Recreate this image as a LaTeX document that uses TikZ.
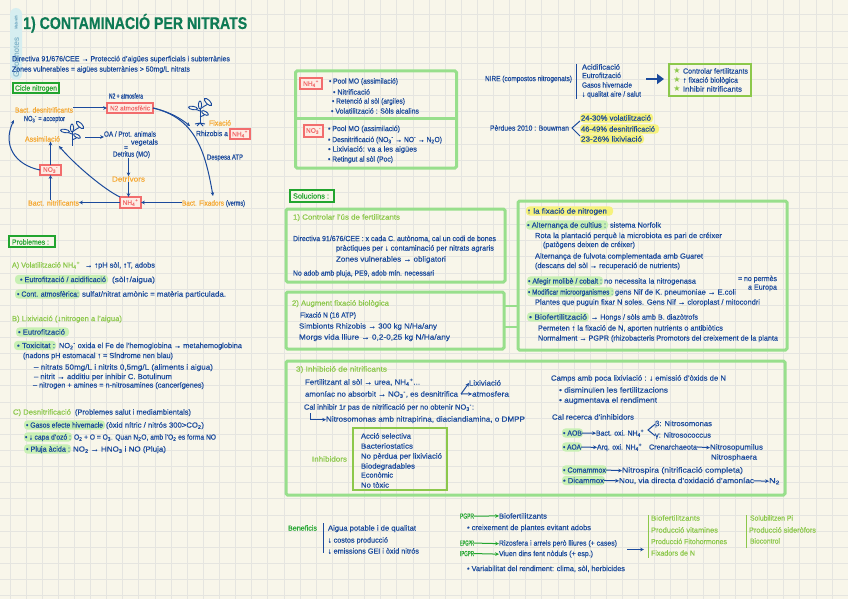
\documentclass[tikz,border=0pt]{standalone}
\usepackage{fontspec}
\usepackage{graphicx}
\setmainfont{Liberation Sans}[FakeBold=0.45]
\newfontfamily\djv{DejaVu Sans}
\usetikzlibrary{arrows.meta,calc}
\definecolor{bg}{HTML}{F8F6EA}
\definecolor{gridc}{HTML}{E5E5E0}
\definecolor{ink}{HTML}{1B4A9C}
\definecolor{titlec}{HTML}{0E7A55}
\definecolor{orng}{HTML}{F5A833}
\definecolor{lime}{HTML}{8CC84B}
\definecolor{dgreen}{HTML}{22A52F}
\definecolor{rd}{HTML}{F26D6D}
\definecolor{pinkf}{HTML}{FDECE4}
\definecolor{boxg}{HTML}{98DF8C}
\definecolor{hlg}{HTML}{C8F0B4}
\definecolor{hly}{HTML}{F6F27C}
\definecolor{tagb}{HTML}{D6EEF0}
\definecolor{tagt}{HTML}{86B8CC}
\newsavebox\fitbox
\newcommand\fitw[2]{\sbox\fitbox{#2}\pgfmathsetmacro\fr{(#1)/\the\wd\fitbox}\scalebox{\fr}[1]{\usebox\fitbox}}
\newcommand\tx[6][ink]{\node[lbl,text=#1,anchor=base west] (#2) at (#3,#5+2.6) {\fitw{#4-#3}{#6}};}
\newcommand\hl[4][hlg]{\fill[#1,rounded corners=3.5] (#2,#4-4.6) rectangle (#3,#4+4.6);}
\newcommand\nhf{NH\textsubscript{4}\textsuperscript{+}}
\newcommand\ntr{NO\textsubscript{3}\textsuperscript{-}}
\newcommand\plantshape[3]{% x y flip
\begin{scope}[shift={(#1,#2)},xscale=#3,draw=ink,line width=.9]
\draw (0,0) -- (0,20);
\draw (0,8) .. controls (-3,6) and (-6,6) .. (-11,5);
\draw (0,6) .. controls (3,4) and (6,2) .. (8,1);
\draw (0,14) .. controls (3,13) and (5,12) .. (7,9);
\draw[fill=bg,rotate around={-10:(-7,5)}] (-7,5) ellipse (4.5 and 1.7);
\draw[fill=bg,rotate around={-45:(8,-1)}] (8,-1) ellipse (4.8 and 2);
\draw[fill=bg,rotate around={90:(0,2)}] (0,2) ellipse (4 and 1.6);
\draw[fill=bg,rotate around={-30:(5,10)}] (5,10) ellipse (3.8 and 1.6);
\end{scope}}
\tikzset{
 lbl/.style={inner sep=0pt,outer sep=0pt,font=\fontsize{7.4}{8}\selectfont},
 conn/.style={draw=ink,line width=1,-{Stealth[length=3.8pt,width=3.6pt]}},
 rline/.style={draw=ink,line width=1},
 redbox/.style={draw=rd,fill=pinkf,line width=1.3,text=rd,inner sep=0pt,outer sep=0pt,font=\fontsize{6.6}{7}\selectfont},
 gbox/.style={draw=boxg,line width=3,rounded corners=1.5,anchor=north west,inner sep=0pt,outer sep=0pt},
 libox/.style={draw=lime,line width=1.4,anchor=north west,inner sep=0pt,outer sep=0pt},
 tagbox/.style={draw=dgreen,line width=1.2,anchor=north west,inner sep=0pt,outer sep=0pt,fill=bg},
 gbar/.style={draw=lime,line width=1},
}
\begin{document}
\begin{tikzpicture}[x=1pt,y=-1pt]
\useasboundingbox (0,0) rectangle (848,599);
\fill[bg] (0,0) rectangle (848,599);
\foreach \k in {-1,...,52} \draw[gridc,line width=1] ({10+16.12*\k},0) -- ({10+16.12*\k},599);
\foreach \k in {-1,...,36} \draw[gridc,line width=1] (0,{15+16.13*\k}) -- (848,{15+16.13*\k});

% side tag
\fill[tagb,rounded corners=6] (10,8) rectangle (22,80);
\node[inner sep=0pt,rotate=90,text=tagt,font=\fontsize{4}{4}\selectfont] (tag1) at (16,22) {\fitw{13}{Made with}};
\node[inner sep=0pt,rotate=90,text=tagt,font=\fontsize{8}{8}\selectfont] (tag2) at (16,57) {\fitw{40}{Goodnotes}};

% title
\node[inner sep=0pt,anchor=base west,text=titlec,font=\bfseries\fontsize{17}{18}\selectfont] (title) at (23,29) {\fitw{224}{1) CONTAMINACIÓ PER NITRATS}};

\tx{l1}{12}{230}{58.7}{Directiva 91/676/CEE → Protecció d'aigües superficials i subterrànies}
\tx{l2}{12}{190}{69}{Zones vulnerables = aigües subterrànies > 50mg/L nitrats}

% nitrogen cycle
\node[tagbox,minimum width=46,minimum height=10] (cicle) at (13,83) {};
\tx[dgreen]{ciclet}{15}{57}{88}{Cicle nitrogen}
\tx{na}{109}{143}{96}{N2 + atmosfera}
\node[redbox,minimum width=46,minimum height=10] (n2) at (130,108) {\fitw{40}{N2 atmosfèric}};
\tx[orng]{bd}{15}{73}{110}{Bact. desnitrificants}
\tx{bda}{24}{65}{118.5}{\ntr{} = acceptor}
\tx[orng]{as}{25}{60}{139}{Assimilació}
\plantshape{72}{126}{1}
\coordinate (pa) at (85,137);
\tx{oa}{104}{156}{134}{OA / Prot. animals}
\tx{ve}{131}{158}{142}{vegetals}
\tx{eq}{124}{128}{147.5}{=}
\tx{de}{113}{150}{154}{Detritus (MO)}
\tx[orng]{dv}{112}{145}{179}{Detrívors}
\node[redbox,minimum width=21,minimum height=11] (nh) at (130.5,202.5) {\nhf};
\tx[orng]{bn}{28}{79}{203}{Bact. nitrificants}
\tx[orng]{bf}{182}{224}{203}{Bact. Fixadors}
\tx{bfv}{226}{245}{203}{(verms)}
\node[redbox,minimum width=21,minimum height=10] (no) at (50.5,170) {\ntr};
\plantshape{200}{103}{1}
\coordinate (rt) at (200,123);
\draw[draw=ink,line width=.9] (rt) -- +(-5,1) (rt) -- +(5,1) (rt) -- +(-3,3) (rt) -- +(3,3);
\tx[orng]{fx}{209}{231}{123}{Fixació}
\tx{rh}{196}{228}{133.5}{Rhizobis a}
\node[redbox,minimum width=20,minimum height=10] (nhb) at (240,134) {\nhf};
\tx{atp}{207}{243}{157}{Despesa ATP}

\draw[conn] (bd.east |- n2) -- (n2.west);
\draw[conn] (pa) -- (oa.west |- pa);
\draw[conn] (de.south -| dv) -- (dv.north);
\draw[conn] (dv.south) -- (dv.south |- nh.north);
\draw[conn] (nh.west) -- (bn.east |- nh);
\draw[conn] (bf.west |- nh) -- (nh.east);
\draw[conn] (bn.north -| no) -- (no.south);
\draw[conn] (no.north) -- (as.south -| no);
\draw[conn] (no.west) .. controls (15,165) and (2,145) .. (14,120);
\draw[conn] (nh.north west) .. controls (105,190) and (75,165) .. (59,146);
\draw[conn] (n2.east) .. controls (195,118) and (205,150) .. (213,196);
\draw[conn] (n2.east) .. controls (170,112) and (180,118) .. (190,126);

% problemes
\node[tagbox,minimum width=46,minimum height=11,line width=1.4] (prob) at (9,236) {};
\tx[dgreen]{probt}{12}{49}{242}{Problemes :}
\tx[lime]{a1}{12}{80}{265}{A) Volatilització \nhf}
\tx{a2}{85}{155}{265}{→ ↑pH sòl, ↑T, adobs}
\hl{15}{108}{279.5}
\tx{a3}{20}{106}{279.5}{• Eutrofització / acidificació}
\tx{a4}{112}{155}{279.5}{(sòl↑/aigua)}
\hl{15}{80}{294}
\tx{a5}{17}{79}{294}{• Cont. atmosfèrica:}
\tx{a6}{82}{226}{294}{sulfat/nitrat amònic = matèria particulada.}
\tx[lime]{b1}{12}{122}{318.5}{B) Lixiviació (↓nitrogen a l'aigua)}
\hl{16}{69}{332}
\tx{b2}{18}{65}{332}{• Eutrofització}
\hl{14}{56}{345.5}
\tx{b3}{17}{55}{345.5}{• Toxicitat :}
\tx{b4}{59}{242}{345.5}{NO\textsubscript{2}\textsuperscript{-} oxida el Fe de l'hemoglobina → metahemoglobina}
\tx{b5}{23}{173}{355.5}{(nadons pH estomacal ↑ = Síndrome nen blau)}
\tx{b6}{34}{213}{367}{– nitrats 50mg/L i nitrits 0,5mg/L (aliments i aigua)}
\tx{b7}{34}{172}{376.5}{– nitrit → additiu per inhibir C. Botulinum}
\tx{b8}{33}{204}{385}{– nitrogen + amines = n-nitrosamines (cancerígenes)}
\tx[lime]{c1}{13}{71}{412}{C) Desnitrificació}
\tx{c2}{75}{191}{412}{(Problemes salut i mediambientals)}
\hl{24}{105}{425}
\tx{c3}{26}{103}{425}{• Gasos efecte hivernacle}
\tx{c4}{106}{204}{425}{(òxid nítric / nitrós 300>CO\textsubscript{2})}
\hl{24}{72}{437}
\tx{c5}{25}{71}{437}{• ↓ capa d'ozó :}
\tx{c6}{74}{216}{437}{O\textsubscript{2} + O = O\textsubscript{3}. Quan N\textsubscript{2}O, amb l'O\textsubscript{2} es forma NO}
\hl{24}{71}{449}
\tx{c7}{26}{70}{449}{• Pluja àcida :}
\tx{c8}{73}{166}{449}{NO\textsubscript{2} → HNO\textsubscript{3} i NO (Pluja)}

% NH4 / NO3 box
\node[gbox,minimum width=161,minimum height=97] (bx0) at (295.5,71) {};
\coordinate (midy) at (300,119);
\draw[boxg,line width=3] (bx0.west |- midy) -- (bx0.east |- midy);
\node[redbox,minimum width=22,minimum height=11] (nh2) at (311,83.5) {\nhf};
\node[redbox,minimum width=19,minimum height=12] (no2) at (313.5,131) {\ntr};
\tx{d1}{329}{398}{81}{• Pool MO (assimilació)}
\tx{d2}{333}{370}{92}{• Nitrificació}
\tx{d3}{332}{405}{101}{• Retenció al sòl (argiles)}
\tx{d4}{331}{419}{111}{• Volatilització : Sòls alcalins}
\tx{d5}{328}{400}{128.5}{• Pool MO (assimilació)}
\tx{d6}{328}{442}{139.5}{• Desnitrificació (\ntr{} → NO\textsuperscript{-} → N\textsubscript{2}O)}
\tx{d7}{328}{417}{149}{• Lixiviació: va a les aigües}
\tx{d8}{328}{393}{159}{• Retingut al sòl (Poc)}

% top right
\tx{e1}{485}{572}{78.5}{NIRE (compostos nitrogenats)}
\coordinate (bt) at (576,64); \coordinate (bb) at (576,99);
\draw[rline] (bt) -- (bb);
\tx{e2}{582}{620}{67}{Acidificació}
\tx{e3}{582}{621}{75.5}{Eutrofització}
\tx{e4}{582}{632}{85}{Gasos hivernacle}
\tx{e5}{582}{641}{94}{↓ qualitat aire / salut}
\node[libox,minimum width=82,minimum height=32] (ctrl) at (669,64) {};
\coordinate (ba) at (646,79);
\draw[draw=ink,line width=2.4,-{Triangle[length=7pt,width=10pt]}] (ba) -- (664,79);
\foreach \n/\yy in {s1/71,s2/80,s3/89} \node[inner sep=0pt,text=lime,font=\djv\fontsize{8}{8}\selectfont] (\n) at (677,\yy) {★};
\tx{e6}{683}{748}{71}{Controlar fertilitzants}
\tx{e7}{683}{738}{80}{↑ fixació biològica}
\tx{e8}{683}{742}{89}{Inhibir nitrificants}
\tx{f1}{490}{569}{128}{Pèrdues 2010 : Bouwman}
\coordinate (fa) at (572,128);\coordinate (fb) at (580,121);\coordinate (fc) at (580,136);
\draw[rline] (fb) -- (fa) -- (fc);
\hl[hly]{580}{653}{118}
\hl[hly]{580}{659}{129}
\hl[hly]{580}{644}{139}
\tx{f2}{581}{651}{118}{24-30\% volatilització}
\tx{f3}{581}{655}{129}{46-49\% desnitrificació}
\tx{f4}{581}{642}{139}{23-26\% lixiviació}

% solucions
\node[tagbox,minimum width=44,minimum height=12,line width=1.4] (sol) at (290,190) {};
\tx[dgreen]{solt}{293}{329}{196}{Solucions :}
\node[gbox,minimum width=219,minimum height=73] (bx1) at (286,209) {};
\tx[lime]{g1}{293}{400}{217}{1) Controlar l'ús de fertilitzants}
\tx{g2}{293}{496}{238.5}{Directiva 91/676/CEE : x cada C. autònoma, cal un codi de bones}
\tx{g3}{336}{494}{248}{pràctiques per ↓ contaminació per nitrats agraris}
\tx{g4}{336}{446}{259}{Zones vulnerables → obligatori}
\tx{g5}{293}{434}{273}{No adob amb pluja, PE9, adob mín. necessari}
\node[gbox,minimum width=218,minimum height=57] (bx2) at (286,292) {};
\tx[lime]{h1}{292}{389}{303}{2) Augment fixació biològica}
\tx{h2}{300}{356}{315}{Fixació N (16 ATP)}
\tx{h3}{299}{437}{326}{Simbionts Rhizobis → 300 kg N/Ha/any}
\tx{h4}{299}{450}{337}{Morgs vida lliure → 0,2-0,25 kg N/Ha/any}

\node[gbox,minimum width=269,minimum height=149] (bxr) at (518,201) {};
\coordinate (j1) at (510,306); \coordinate (j2) at (510,327);
\draw[boxg,line width=2.4] (bx2.east |- j1) -- (bxr.west |- j1);
\draw[boxg,line width=2.4] (bx2.east |- j2) -- (bxr.west |- j2);
\hl[hly]{526}{613}{211}
\tx{i1}{527}{607}{211}{↑ la fixació de nitrogen}
\hl{526}{608}{225}
\tx{i2}{527}{606}{225}{• Alternança de cultius :}
\tx{i3}{610}{661}{225}{sistema Norfolk}
\tx{i4}{535}{722}{235.5}{Rota la plantació perquè la microbiota es pari de créixer}
\tx{i5}{543}{635}{244.5}{(patògens deixen de créixer)}
\tx{i6}{535}{703}{256}{Alternança de fulvota complementada amb Guaret}
\tx{i7}{535}{680}{265.5}{(descans del sòl → recuperació de nutrients)}
\hl{527}{603}{281}
\tx{i8}{528}{602}{281}{• Afegir molibè / cobalt :}
\tx{i9}{604}{696}{281}{no necessita la nitrogenasa}
\tx{i10}{738}{777}{278.5}{= no permès}
\tx{i11}{748}{777}{287}{a Europa}
\hl{527}{614}{292}
\tx{i12}{528}{613}{292}{• Modificar microorganismes :}
\tx{i13}{615}{736}{292}{gens Nif de K. pneumoniae → E.coli}
\tx{i14}{535}{760}{302}{Plantes que puguin fixar N soles. Gens Nif → cloroplast / mitocondri}
\hl{527}{589}{317}
\tx{i15}{529}{587}{317}{• Biofertilització}
\tx{i16}{591}{698}{317}{→ Hongs / sòls amb B. diazòtrofs}
\tx{i17}{538}{723}{328}{Permeten ↑ la fixació de N, aporten nutrients o antibiòtics}
\tx{i18}{538}{778}{338}{Normalment → PGPR (rhizobacteris Promotors del creixement de la planta}

% box 3
\node[gbox,minimum width=499,minimum height=134] (bx3) at (286,361) {};
\tx[lime]{k1}{296}{387}{369}{3) Inhibició de nitrificants}
\tx{k2}{305}{420}{382}{Fertilitzant al sòl → urea, \nhf...}
\tx{k3}{305}{458}{394}{amoníac no absorbit → \ntr, es desnitrifica}
\tx{k4}{469}{501}{383}{Lixiviació}
\tx{k5}{472}{509}{394}{atmosfera}
\coordinate (kf) at (461,394);
\draw[conn] (kf) -- (k4.west);
\draw[conn] (kf) -- (k5.west);
\tx{k6}{304}{474}{407}{Cal inhibir 1r pas de nitrificació per no obtenir \ntr:}
\tx{k7}{326}{525}{419}{Nitrosomonas amb nitrapirina, diaciandiamina, o DMPP}
\coordinate (kb) at (310,413);
\draw[conn] (kb) |- (k7.west);
\node[libox,minimum width=94,minimum height=62] (inh) at (353,428) {};
\tx[lime]{k8}{312}{347}{459}{Inhibidors}
\tx{k9}{361}{411}{436}{Acció selectiva}
\tx{k10}{361}{413}{446}{Bacteriostatics}
\tx{k11}{361}{442}{456}{No pèrdua per lixiviació}
\tx{k12}{361}{415}{466}{Biodegradables}
\tx{k13}{361}{393}{475}{Econòmic}
\tx{k14}{361}{389}{485}{No tòxic}

\tx{m1}{551}{726}{378}{Camps amb poca lixiviació : ↓ emissió d'òxids de N}
\tx{m2}{559}{668}{390}{• disminuïen les fertilitzacions}
\tx{m3}{559}{657}{400}{• augmentava el rendiment}
\tx{m4}{552}{634}{417}{Cal recerca d'inhibidors}
\hl{562}{583}{433}
\tx{m5}{563}{582}{433}{• AOB}
\tx{m6}{596}{644}{433}{Bact. oxi. \nhf}
\tx{m7}{655}{712}{423.5}{β: Nitrosomonas}
\tx{m8}{655}{711}{435}{γ: Nitrosococcus}
\coordinate (mf) at (648,430);
\draw[rline] (m7.west) -- (mf) -- (m8.west);
\draw[conn] (m5.east) -- (m6.west);
\hl{562}{582}{447}
\tx{m9}{563}{581}{447}{• AOA}
\tx{m10}{597}{642}{447}{Arq. oxi. \nhf}
\tx{m11}{649}{697}{447}{Crenarchaeota}
\tx{m12}{710}{763}{447}{Nitrosopumilus}
\tx{m13}{711}{757}{457}{Nitrosphaera}
\draw[conn] (m9.east) -- (m10.west);
\draw[conn] (m11.east) -- (m12.west);
\hl{562}{607}{470}
\tx{m14}{563}{606}{470}{• Comammox}
\tx{m15}{622}{743}{470}{Nitrospira (nitrificació completa)}
\draw[conn] (m14.east) -- (m15.west);
\hl{562}{605}{480.5}
\tx{m16}{563}{604}{480.5}{• Dicammox}
\tx{m17}{619}{754}{480.5}{Nou, via directa d'oxidació d'amoníac}
\tx{m18}{769}{780}{480.5}{N\textsubscript{2}}
\draw[conn] (m16.east) -- (m17.west);
\draw[conn] (m17.east) -- (m18.west);

% bottom
\tx[dgreen]{n1}{288}{317}{528}{Beneficis}
\coordinate (nt) at (323,523); \coordinate (nb) at (323,553);
\draw[rline] (nt) -- (nb);
\tx{n2t}{328}{416}{528}{Aigua potable i de qualitat}
\tx{n3}{328}{388}{540}{↓ costos producció}
\tx{n4}{328}{419}{551}{↓ emissions GEI i òxid nitrós}
\tx[dgreen]{o1}{460}{474}{516}{PGPR}
\tx{o2}{499}{547}{516}{Biofertilitzants}
\draw[conn,draw=dgreen] (o1.east) -- (o2.west);
\tx{o3}{467}{591}{527.5}{• creixement de plantes evitant adobs}
\tx[dgreen]{o4}{460}{474}{543}{EPGPR}
\tx{o5}{499}{617}{543}{Rizosfera i arrels però lliures (+ cases)}
\draw[conn,draw=dgreen] (o4.east) -- (o5.west);
\tx[dgreen]{o6}{460}{474}{553.5}{IPGPR}
\tx{o7}{499}{593}{553.5}{Viuen dins fent nòduls (+ esp.)}
\draw[conn,draw=dgreen] (o6.east) -- (o7.west);
\tx{o8}{467}{625}{568.5}{• Variabilitat del rendiment: clima, sòl, herbicides}
\coordinate (pf) at (627,549.5); \coordinate (pg) at (644,549.5);
\draw[conn] (pf) -- (pg);
\coordinate (q1) at (648,515); \coordinate (q2) at (648,558);
\draw[gbar] (q1) -- (q2);
\tx[lime]{q3}{651}{700}{518}{Biofertilitzants}
\tx[lime]{q4}{651}{718}{530}{Producció vitamines}
\tx[lime]{q5}{651}{727}{541.5}{Producció Fitohormones}
\tx[lime]{q6}{651}{695}{553}{Fixadors de N}
\coordinate (r1) at (746,515); \coordinate (r2) at (746,548);
\draw[gbar] (r1) -- (r2);
\tx[lime]{r3}{750}{793}{518}{Solubilitzen Pi}
\tx[lime]{r4}{749}{816}{530}{Producció sideròfors}
\tx[lime]{r5}{750}{780}{541}{Biocontrol}
\end{tikzpicture}
\end{document}
